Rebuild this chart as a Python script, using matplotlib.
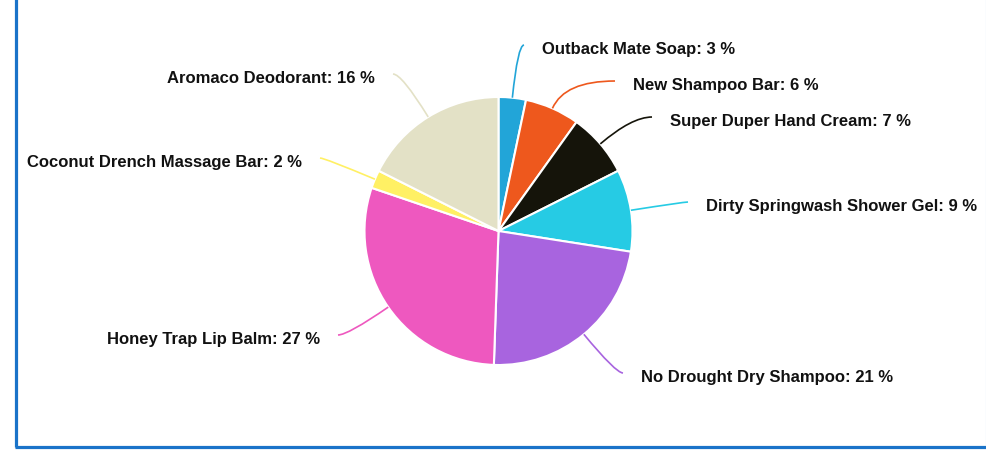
import numpy as np
import matplotlib.pyplot as plt
from matplotlib.path import Path
from matplotlib.patches import PathPatch

# -------------------------------
# Product share data
# -------------------------------
products = [
    "Outback Mate Soap",
    "New Shampoo Bar",
    "Super Duper Hand Cream",
    "Dirty Springwash Shower Gel",
    "No Drought Dry Shampoo",
    "Honey Trap Lip Balm",
    "Coconut Drench Massage Bar",
    "Aromaco Deodorant",
]
shares = [3, 6, 7, 9, 21, 27, 2, 16]
colors = ["#22a5d8", "#ee581d", "#15140a", "#26cbe4",
          "#a864df", "#ee58bf", "#fff064", "#e3e1c6"]

# where each label's leader line ends (pixel layout), and which side the text sits on
label_ends = [(524, 46), (615, 82), (652, 118), (688, 203),
              (623, 374), (338, 336), (320, 159), (393, 75)]
label_side = [1, 1, 1, 1, 1, -1, -1, -1]

# -------------------------------
# Figure in pixel coordinates
# -------------------------------
W, H = 987, 460
fig = plt.figure(figsize=(W / 100, H / 100), dpi=100)
ax = fig.add_axes([0, 0, 1, 1])

cx, cy, r = 498.5, 232, 134

# y axis is flipped (pixel rows), so startangle=-90 is 12 o'clock and
# counterclock=True runs clockwise on screen
wedges, _ = ax.pie(shares, colors=colors, center=(cx, cy), radius=r,
                   startangle=-90, counterclock=True,
                   wedgeprops=dict(edgecolor="white", linewidth=1.5),
                   frame=True)
ax.set_xlim(0, W)
ax.set_ylim(H, 0)
ax.set_aspect("equal")
ax.axis("off")

# -------------------------------
# Leader lines and labels
# -------------------------------
total = sum(shares)
cum = np.cumsum([0] + shares[:-1])
for i, name in enumerate(products):
    mid = (cum[i] + shares[i] / 2) / total * 2 * np.pi
    ux, uy = np.sin(mid), -np.cos(mid)
    p0 = (cx + r * ux, cy + r * uy)
    ex, ey = label_ends[i]
    # control point: radial line meets the label's horizontal
    t = (ey - p0[1]) / uy if abs(uy) > 1e-6 else 30
    t = max(t, 5)
    ctrl_x = p0[0] + t * ux
    if label_side[i] > 0:
        ctrl_x = min(ctrl_x, ex - 2)
    else:
        ctrl_x = max(ctrl_x, ex + 2)
    path = Path([p0, (ctrl_x, ey), (ex, ey)],
                [Path.MOVETO, Path.CURVE3, Path.CURVE3])
    ax.add_patch(PathPatch(path, facecolor="none", edgecolor=colors[i],
                           linewidth=1.2))
    tx = ex + 18 * label_side[i]
    ax.text(tx, ey + 3.5, f"{name}: {shares[i]} %",
            ha="left" if label_side[i] > 0 else "right", va="center",
            fontsize=12, fontweight="bold", family="Liberation Sans",
            color="#111111")

# -------------------------------
# Panel border
# -------------------------------
ax.plot([16, 16], [0, 447.5], color="#1a73c9", linewidth=2.3,
        solid_capstyle="butt")
ax.plot([14.5, W], [447.5, 447.5], color="#1a73c9", linewidth=2.3,
        solid_capstyle="butt")
ax.plot([985.5, 985.5], [0, 446], color="#b5d4f0", linewidth=0.8)

fig.savefig("out.png", dpi=100, facecolor="white")
